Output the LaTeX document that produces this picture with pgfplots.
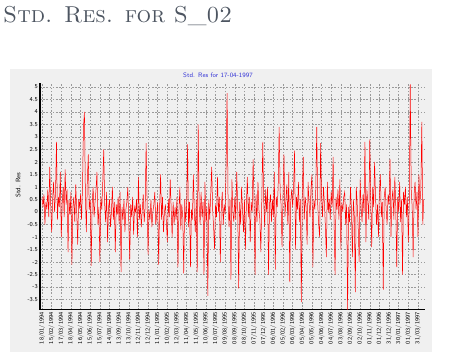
\documentclass[border=0pt]{standalone}
\usepackage{pgfplots}
\usepackage{pgfplotstable}
\pgfplotsset{compat=1.18}
\usetikzlibrary{backgrounds}
\definecolor{panelgray}{HTML}{F0F0F0}
\definecolor{titlegray}{HTML}{4D5561}
\definecolor{ctitle}{HTML}{3434D6}
\definecolor{gridgray}{HTML}{9A9A9A}

\pgfplotstableread{
v
0.6
0.2
0.7
-0.5
0.4
0.1
0.9
-0.2
1.8
0.3
-0.8
0.5
1.2
0.0
0.8
2.8
-0.3
0.6
0.2
1.6
-1.0
0.4
1.0
-0.2
1.7
0.3
0.9
-1.6
0.5
-0.1
0.8
-2.1
0.2
0.6
-0.4
1.1
0.0
-1.3
0.5
0.2
0.7
-0.3
1.0
3.4
4.0
0.6
-0.8
1.3
2.3
0.1
0.5
-2.15
0.3
1.0
-0.2
0.4
0.9
1.6
-0.5
0.2
-2.0
0.6
0.1
1.2
2.5
0.3
-0.4
0.8
-1.2
0.2
0.5
-0.6
0.0
1.0
-0.3
0.4
-1.6
0.3
-0.1
0.6
-0.5
0.8
-2.4
0.2
-0.3
0.5
-0.8
0.1
0.4
1.0
-0.4
-1.9
0.3
-0.2
0.6
-0.9
0.2
0.0
0.5
-1.0
1.4
-0.3
0.3
-0.6
0.1
0.7
-0.4
0.2
2.75
0.4
-1.7
0.1
-0.3
0.5
-0.6
0.0
0.3
0.8
-0.5
-0.1
0.4
-2.1
0.2
1.5
-0.3
0.6
-0.8
0.0
0.3
-0.4
-1.2
0.5
-0.2
1.3
0.1
-1.0
0.4
-0.5
0.2
-0.3
0.6
-2.2
0.0
1.0
-0.7
0.3
-0.2
-2.45
0.5
-0.4
0.2
2.7
-0.6
0.4
-2.2
0.1
-0.3
1.5
0.0
-0.8
0.5
-2.4
3.5
0.3
-0.5
0.8
-0.2
0.4
-2.5
1.2
-0.4
0.2
-3.35
0.5
-0.3
0.7
1.8
0.1
-0.6
-1.5
0.3
-0.2
1.4
0.0
0.6
-2.0
0.2
0.8
-0.5
0.3
-0.1
2.0
4.75
0.4
-0.6
0.5
-2.7
1.3
0.0
-0.4
0.6
-0.3
1.6
0.2
-3.05
0.4
-0.5
1.0
0.1
-0.8
0.5
-1.5
0.3
1.4
-0.2
0.6
-1.2
0.4
0.0
2.1
0.3
-2.5
0.7
-0.4
1.2
0.1
-0.3
-1.6
0.5
2.8
0.4
-0.6
0.9
0.0
1.0
-2.5
0.3
0.7
-0.4
0.5
-0.2
1.6
-2.3
0.6
0.2
1.0
3.4
0.8
0.3
-1.4
0.7
2.3
-0.2
0.5
1.1
-0.5
1.6
-2.8
0.4
0.9
0.2
1.0
2.45
-1.5
0.6
0.1
1.2
-0.4
0.5
-3.6
0.8
2.2
-0.3
0.6
0.2
-1.3
1.2
0.4
-0.2
0.9
1.5
-2.2
0.5
0.1
0.9
3.4
0.3
-0.5
-1.0
2.75
0.6
-0.2
1.0
0.3
-0.6
-1.8
1.2
0.0
0.5
-0.3
0.8
0.2
2.2
-0.4
-2.5
0.6
0.1
0.9
-0.3
1.3
-1.5
0.4
0.0
0.6
0.8
-0.5
0.3
-3.95
0.2
-0.4
1.0
0.1
-1.8
0.5
-0.2
-3.2
1.0
0.3
-0.6
-2.0
1.3
0.2
-0.4
0.7
0.0
2.8
-1.2
0.9
0.4
-0.3
2.9
0.5
-1.4
1.0
0.2
2.0
0.6
-0.5
0.3
-1.0
0.8
1.5
-0.2
0.4
-3.1
0.6
1.0
0.1
-0.5
0.7
0.3
2.1
-1.0
0.5
0.9
-0.3
1.4
0.2
-2.2
0.6
0.0
1.2
-0.4
0.5
-2.5
0.8
0.3
1.0
-0.2
0.6
-1.2
0.4
5.1
0.9
0.2
-1.8
0.7
1.2
0.1
0.8
-1.0
1.5
0.3
0.9
3.6
-0.5
0.5
}\resdata

\begin{document}
\begin{tikzpicture}
\begin{axis}[
  scale only axis, width=385pt, height=227pt,
  xmin=-0.21, xmax=39.73, ymin=-3.92, ymax=5.16,
  axis x line*=bottom, axis y line*=left,
  x axis line style={black, line width=1pt},
  y axis line style={black, line width=1.6pt},
  major tick length=0pt,
  xtick={0,1,...,39},
  xticklabels={18/01/1994,15/02/1994,17/03/1994,18/04/1994,16/05/1994,15/06/1994,15/07/1994,14/08/1994,13/09/1994,13/10/1994,12/11/1994,12/12/1994,11/01/1995,10/02/1995,12/03/1995,11/04/1995,11/05/1995,10/06/1995,10/07/1995,09/08/1995,08/09/1995,08/10/1995,07/11/1995,07/12/1995,06/01/1996,05/02/1996,06/03/1996,05/04/1996,05/05/1996,04/06/1996,04/07/1996,03/08/1996,02/09/1996,02/10/1996,01/11/1996,01/12/1996,31/12/1996,30/01/1997,01/03/1997,31/03/1997},
  x tick label style={rotate=90, anchor=east, font=\sffamily\fontsize{6}{6}\selectfont, inner sep=2pt},
  ytick={-3.5,-3,...,5},
  yticklabels={-3.5,-3,-2.5,-2,-1.5,-1,-0.5,0,0.5,1,1.5,2,2.5,3,3.5,4,4.5,5},
  y tick label style={font=\sffamily\fontsize{6}{6}\selectfont, inner sep=2pt},
  grid=major,
  major grid style={gridgray, line width=0.45pt, dash pattern=on 1.6pt off 1.6pt},
  clip=true,
]
\addplot[red, line width=0.5pt, mark=none] table[x expr=\coordindex*0.1, y=v] {\resdata};
\coordinate (SW) at (rel axis cs:0,0);
\end{axis}
\begin{scope}[on background layer, shift={(SW)}]
\begin{scope}[x=1pt, y=1pt, shift={(-40pt,-51pt)}]
\fill[white] (0,0) rectangle (450,361);
\fill[panelgray] (10,9) rectangle (432,292);
\node[anchor=base west, inner sep=0pt, text=titlegray, font=\fontsize{23}{26}\selectfont] at (3,338) {\textsc{Std. Res. for S\_02}};
\node[text=ctitle, font=\sffamily\fontsize{6.5}{7}\selectfont] at (218,286) {Std. Res for 17-04-1997};
\node[rotate=90, font=\sffamily\fontsize{6.5}{7}\selectfont] at (18,176) {Std. Res};
\end{scope}
\end{scope}
\end{tikzpicture}
\end{document}
